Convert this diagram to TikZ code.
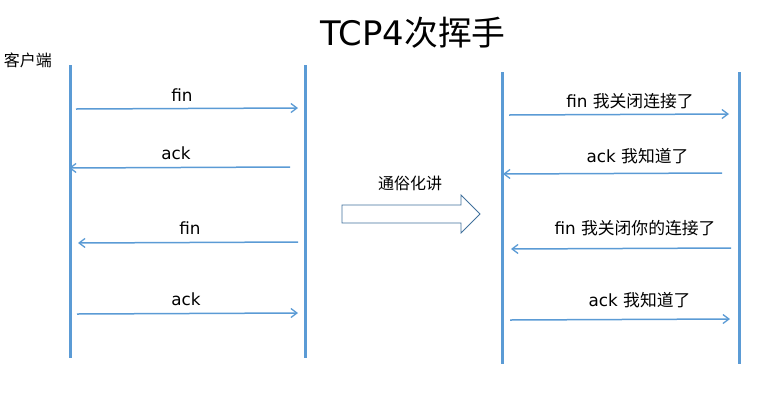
\documentclass[tikz,border=0pt]{standalone}
\usepackage{fontspec}
\setmainfont{DejaVu Sans}
\newfontfamily\cjk{Noto Sans CJK SC}
\usetikzlibrary{arrows.meta}
\definecolor{lineblue}{HTML}{5B9BD5}
\definecolor{edgeblue}{HTML}{41719C}
\tikzset{
  life/.style={draw=lineblue, line width=3pt},
  msg/.style={draw=lineblue, line width=1.5pt, -{Straight Barb[length=6pt,width=9pt,line width=1.3pt]}},
  lbl/.style={font=\fontsize{16.8}{19}\selectfont, inner sep=0pt, anchor=base},
}
\begin{document}
\begin{tikzpicture}[x=1pt,y=-1pt]
\path[use as bounding box] (0,0) rectangle (768,408);
% title
\node[font=\fontsize{33.8}{38}\selectfont, inner sep=0pt] (title) at (413,33) {TCP4{\cjk 次挥手}};
\node[font=\cjk\fontsize{16}{18}\selectfont, inner sep=0pt] (client) at (28,60) {客户端};
% lifelines
\coordinate (L1t) at (70,65); \coordinate (L1b) at (70,358);
\coordinate (L2t) at (305,65); \coordinate (L2b) at (305,358);
\coordinate (R1t) at (502,72); \coordinate (R1b) at (502,364);
\coordinate (R2t) at (739,72); \coordinate (R2b) at (739,364);
\draw[life] (L1t) -- (L1b);
\draw[life] (L2t) -- (L2b);
\draw[life] (R1t) -- (R1b);
\draw[life] (R2t) -- (R2b);
% left messages
\coordinate (a1s) at (76,109); \coordinate (a1e) at (298,108);
\coordinate (a2s) at (290,167); \coordinate (a2e) at (69,168);
\coordinate (a3s) at (298,242); \coordinate (a3e) at (78,243);
\coordinate (a4s) at (77,314); \coordinate (a4e) at (298,313);
\draw[msg] (a1s) -- (a1e);
\draw[msg] (a2s) -- (a2e);
\draw[msg] (a3s) -- (a3e);
\draw[msg] (a4s) -- (a4e);
\node[lbl] (t1) at (182,101) {fin};
\node[lbl] (t2) at (176,159) {ack};
\node[lbl] (t3) at (190,234) {fin};
\node[lbl] (t4) at (186,305) {ack};
% right messages
\coordinate (b1s) at (509,115); \coordinate (b1e) at (729,114);
\coordinate (b2s) at (722,173); \coordinate (b2e) at (503,174);
\coordinate (b3s) at (731,248); \coordinate (b3e) at (511,249);
\coordinate (b4s) at (510,320); \coordinate (b4e) at (730,319);
\draw[msg] (b1s) -- (b1e);
\draw[msg] (b2s) -- (b2e);
\draw[msg] (b3s) -- (b3e);
\draw[msg] (b4s) -- (b4e);
\node[lbl] (u1) at (630,107) {fin {\cjk 我关闭连接了}};
\node[lbl] (u2) at (637.5,162) {ack {\cjk 我知道了}};
\node[lbl] (u3) at (635,234) {fin {\cjk 我关闭你的连接了}};
\node[lbl] (u4) at (639.5,306) {ack {\cjk 我知道了}};
% block arrow
\node[font=\cjk\fontsize{16}{18}\selectfont, inner sep=0pt] (tong) at (410,183) {通俗化讲};
\draw[draw=edgeblue, fill=white, line width=0.8pt, line join=miter]
  (342,205) -- (461,205) -- (461,195) -- (480,214) -- (461,233) -- (461,223) -- (342,223) -- cycle;
\end{tikzpicture}
\end{document}
